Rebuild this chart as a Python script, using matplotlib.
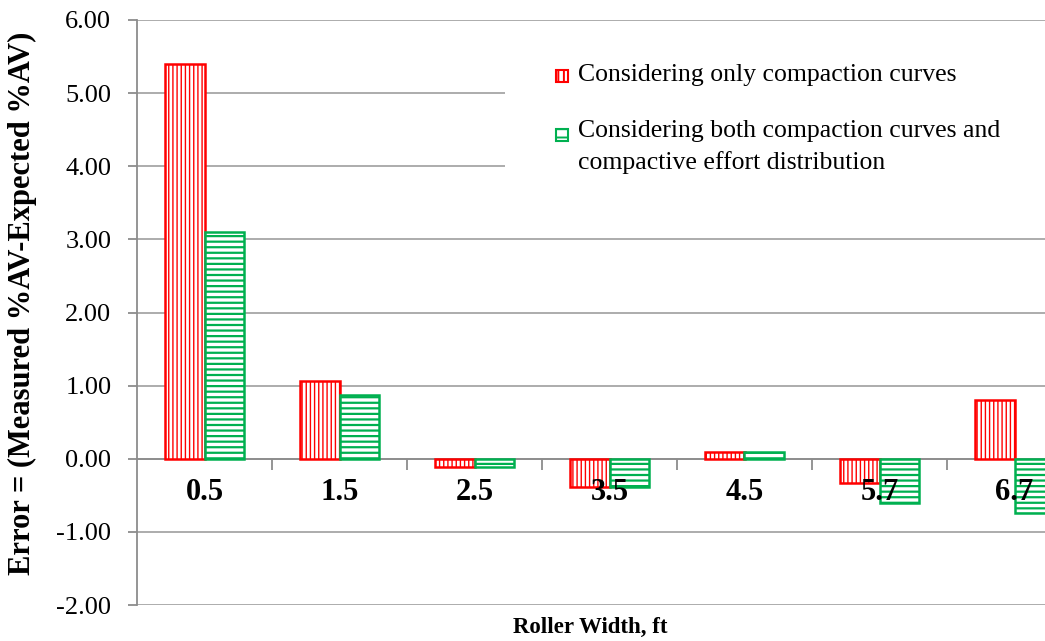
import matplotlib
matplotlib.use("Agg")
import matplotlib.pyplot as plt
import numpy as np
from matplotlib.patches import Rectangle

categories = ["0.5", "1.5", "2.5", "3.5", "4.5", "5.7", "6.7"]
only_curves = [5.40, 1.06, -0.11, -0.38, 0.09, -0.33, 0.80]
both_curves = [3.10, 0.87, -0.11, -0.38, 0.09, -0.60, -0.74]
series_names = ["Considering only compaction curves",
                "Considering both compaction curves and\ncompactive effort distribution"]
yticks = [-2, -1, 0, 1, 2, 3, 4, 5, 6]

plt.rcParams['font.family'] = ['Liberation Serif', 'DejaVu Serif']

W, H = 1045, 641
fig = plt.figure(figsize=(W / 100, H / 100), dpi=100)
ax = fig.add_axes([137 / W, 1 - 605 / H, (1082 - 137) / W, (605 - 20) / H])

red = '#ff0000'
green = '#00b050'
x = np.arange(len(categories))
bw = 0.29
plt.rcParams['hatch.linewidth'] = 1.0
ax.bar(x - bw / 2, only_curves, bw, facecolor='white', edgecolor=red,
       hatch='||||', linewidth=1.8, zorder=3)
plt.rcParams['hatch.linewidth'] = 1.6
ax.bar(x + bw / 2, both_curves, bw, facecolor='white', edgecolor=green,
       hatch='---', linewidth=1.8, zorder=3)

ax.set_xlim(-0.5, len(categories) - 0.5)
ax.set_ylim(-2, 6)
ax.set_yticks(yticks)
ax.set_yticklabels([f"{v:.2f}" for v in yticks], fontsize=19)
ax.yaxis.grid(True, color='#a6a6a6', linewidth=1.3, zorder=0)
ax.set_axisbelow(True)

for s in ['top', 'right']:
    ax.spines[s].set_visible(False)
ax.spines['left'].set_color('#8c8c8c')
ax.spines['left'].set_linewidth(1.3)
ax.spines['bottom'].set_position(('data', 0))
ax.spines['bottom'].set_color('#8c8c8c')
ax.spines['bottom'].set_linewidth(1.3)

ax.tick_params(axis='y', length=6.5, width=1.3, color='#8c8c8c', pad=12)
ax.set_xticks(x)
ax.set_xticklabels(categories, fontsize=22, fontweight='bold')
ax.tick_params(axis='x', which='major', length=0, pad=14)
ax.set_xticks(x[:-1] + 0.5, minor=True)
ax.tick_params(axis='x', which='minor', length=8, width=1.3, color='#8c8c8c')
ax.xaxis.set_zorder(4)

fig.text(22 / W, 1 - 303 / H, "Error = (Measured %AV-Expected %AV)",
         rotation=90, ha='center', va='center', fontsize=22, fontweight='bold')
fig.text(590 / W, 1 - 627 / H, "Roller Width, ft", ha='center', va='center',
         fontsize=16.5, fontweight='bold')

# legend area (white box hiding gridlines), markers and labels
ax.add_patch(Rectangle((505 / W, 1 - 205 / H), (1045 - 505) / W, (205 - 45) / H,
                       transform=fig.transFigure, facecolor='white',
                       edgecolor='none', zorder=1, clip_on=False))
plt.rcParams['hatch.linewidth'] = 1.4
fig.add_artist(Rectangle((556 / W, 1 - 82 / H), 12 / W, 12 / H,
                         transform=fig.transFigure, facecolor='white',
                         edgecolor=red, hatch='|||', linewidth=1.5, zorder=5))
fig.add_artist(Rectangle((556 / W, 1 - 141 / H), 12 / W, 12 / H,
                         transform=fig.transFigure, facecolor='white',
                         edgecolor=green, hatch='--', linewidth=1.5, zorder=5))
fig.text(578 / W, 1 - 75 / H, series_names[0], ha='left', va='center',
         fontsize=18.5, zorder=6)
fig.text(578 / W, 1 - 147 / H, series_names[1], ha='left', va='center',
         fontsize=18.5, linespacing=1.5, zorder=6)

fig.savefig("out.png", dpi=100)
